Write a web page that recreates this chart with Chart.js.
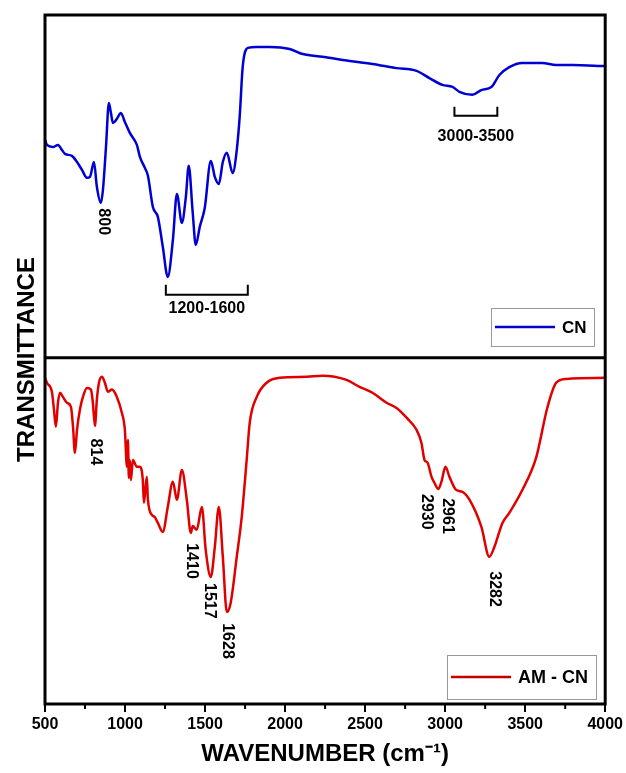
<!DOCTYPE html>
<html>
<head>
<meta charset="utf-8">
<script src="https://cdn.jsdelivr.net/npm/chart.js@4.4.0/dist/chart.umd.min.js"></script>
<style>
  body { margin: 0; background: #fff; }
  canvas { display: block; }
</style>
</head>
<body>
<canvas id="ftir" width="626" height="773"></canvas>
<script>
// CN spectrum (top panel), transmittance in arbitrary units
var cnWavenumber = [500, 512, 550, 581, 606, 625, 668, 700, 731, 762, 781, 806, 824, 849, 862, 881, 899, 912, 924, 949,
  974, 999, 1030, 1074, 1093, 1124, 1143, 1174, 1205, 1236, 1267, 1299, 1324, 1355, 1380, 1398, 1423, 1442, 1467, 1498,
  1536, 1561, 1586, 1611, 1636, 1673, 1698, 1717, 1735, 1767, 1823, 1904, 2029, 2110, 2234, 2359, 2546, 2696, 2821, 2902,
  2983, 3046, 3089, 3170, 3226, 3289, 3339, 3401, 3482, 3607, 3694, 3794, 4000];
var cnTransmittance = [63.6, 62.1, 61.5, 62.1, 60.6, 59.5, 58.9, 57.1, 54.8, 52.5, 52.8, 57.1, 49.9, 45.2, 49.0, 61.5, 74.3, 71.4, 68.5, 69.7,
  71.4, 68.8, 65.6, 62.1, 58.6, 55.4, 53.1, 44.0, 41.1, 32.4, 23.6, 34.4, 47.8, 39.4, 46.9, 56.0, 42.3, 32.9, 38.2, 43.7,
  57.4, 52.8, 50.7, 57.1, 59.8, 53.9, 60.6, 70.8, 84.8, 90.4, 90.7, 90.7, 90.1, 88.6, 87.8, 86.9, 85.7, 84.5, 83.7, 81.6,
  79.6, 79.0, 77.6, 76.7, 78.1, 79.0, 82.5, 84.8, 86.0, 86.0, 85.4, 85.4, 85.1];

// AM - CN spectrum (bottom panel)
var amWavenumber = [500, 512, 544, 556, 568, 581, 594, 612, 637, 662, 675, 687, 700, 718, 737, 762, 787, 799, 812, 824,
  837, 856, 874, 893, 918, 949, 980, 999, 1012, 1018, 1024, 1030, 1037, 1049, 1074, 1093, 1111, 1118, 1136, 1143,
  1168, 1186, 1205, 1236, 1267, 1299, 1324, 1355, 1386, 1411, 1423, 1448, 1480, 1504, 1536, 1561, 1586, 1611, 1636, 1660,
  1698, 1729, 1760, 1779, 1823, 1885, 1966, 2135, 2234, 2384, 2465, 2546, 2634, 2696, 2759, 2821, 2852, 2871, 2890, 2915,
  2933, 2958, 2977, 3002, 3027, 3070, 3108, 3152, 3226, 3276, 3308, 3358, 3401, 3482, 3570, 3638, 3694, 3757, 4000];
var amTransmittance = [94.2, 92.8, 89.9, 85.0, 80.1, 87.0, 89.9, 88.7, 87.0, 85.8, 80.1, 72.5, 79.2, 85.0, 88.7, 91.3, 90.8, 87.0, 80.3, 87.9,
  92.8, 94.5, 92.8, 90.2, 90.8, 88.7, 84.1, 79.2, 68.5, 76.3, 65.3, 70.5, 64.7, 70.5, 68.5, 68.5, 64.7, 58.1, 65.6, 59.0,
  54.6, 54.0, 52.3, 49.7, 56.9, 64.2, 59.0, 67.6, 59.0, 49.4, 51.4, 50.3, 56.9, 44.5, 36.7, 45.4, 56.9, 42.5, 26.6, 29.2,
  42.5, 54.0, 70.5, 81.2, 88.7, 92.8, 94.2, 94.5, 94.8, 93.6, 91.6, 89.9, 87.0, 85.5, 82.7, 79.2, 75.4, 70.5, 69.7, 65.6,
  63.9, 62.1, 64.2, 68.5, 65.6, 61.8, 61.3, 59.0, 51.2, 42.5, 45.4, 52.3, 55.2, 61.8, 71.4, 85.5, 92.8, 93.9, 94.2];

var majorTicks = [500, 1000, 1500, 2000, 2500, 3000, 3500, 4000];
var minorTicks = [750, 1250, 1750, 2250, 2750, 3250, 3750];

// peak labels: text, wavenumber, transmittance where the label sits
var cnPeakText = ['800'];
var cnPeakX = [862];
var cnPeakY = [39.7];
var amPeakText = ['814', '1410', '1517', '1628', '2930', '2961', '3282'];
var amPeakX = [818, 1417, 1529, 1642, 2883, 3014, 3308];
var amPeakY = [72.8, 41.3, 29.8, 18.2, 55.5, 54.3, 33.2];

// region brackets on the CN panel
var rangeText = ['1200-1600', '3000-3500'];
var rangeFrom = [1255, 3058];
var rangeTo = [1767, 3326];
var rangeTop = [21.3, 73.2];
var rangeBottom = [18.4, 70.6];
var rangeLabelY = [14.3, 64.4];

var FONT = "'Liberation Sans', Arial, sans-serif";
Chart.defaults.font.family = FONT;
Chart.defaults.color = '#000';

function pts(xs, ys) {
  return xs.map(function (x, i) { return { x: x, y: ys[i] }; });
}

var panelPlugin = {
  id: 'panels',
  afterDatasetsDraw: function (chart) {
    var c = chart.ctx, a = chart.chartArea;
    var sx = chart.scales.x, yt = chart.scales.yTop, yb = chart.scales.yBottom;
    c.save();

    // frame + divider
    c.strokeStyle = '#000';
    c.lineWidth = 3;
    c.strokeRect(a.left, a.top, a.right - a.left, a.bottom - a.top);
    var mid = yt.getPixelForValue(0);
    c.beginPath();
    c.moveTo(a.left, mid);
    c.lineTo(a.right, mid);
    c.stroke();

    // minor ticks
    c.lineWidth = 2;
    minorTicks.forEach(function (t) {
      var px = sx.getPixelForValue(t);
      c.beginPath();
      c.moveTo(px, a.bottom);
      c.lineTo(px, a.bottom + 5);
      c.stroke();
    });

    // peak labels (rotated)
    c.fillStyle = '#000';
    c.font = 'bold 16px ' + FONT;
    c.textAlign = 'center';
    c.textBaseline = 'middle';
    function rot(txt, px, py) {
      c.save();
      c.translate(px, py);
      c.rotate(Math.PI / 2);
      c.fillText(txt, 0, 0);
      c.restore();
    }
    cnPeakText.forEach(function (t, i) {
      rot(t, sx.getPixelForValue(cnPeakX[i]), yt.getPixelForValue(cnPeakY[i]));
    });
    amPeakText.forEach(function (t, i) {
      rot(t, sx.getPixelForValue(amPeakX[i]), yb.getPixelForValue(amPeakY[i]));
    });

    // range brackets
    c.lineWidth = 2;
    rangeText.forEach(function (t, i) {
      var x1 = sx.getPixelForValue(rangeFrom[i]), x2 = sx.getPixelForValue(rangeTo[i]);
      var y1 = yt.getPixelForValue(rangeTop[i]), y2 = yt.getPixelForValue(rangeBottom[i]);
      c.beginPath();
      c.moveTo(x1, y1);
      c.lineTo(x1, y2);
      c.lineTo(x2, y2);
      c.lineTo(x2, y1);
      c.stroke();
      c.fillText(t, (x1 + x2) / 2, yt.getPixelForValue(rangeLabelY[i]));
    });

    // legends
    function legend(box, color, label, size) {
      c.lineWidth = 1;
      c.strokeStyle = '#999';
      c.strokeRect(box[0] + 0.5, box[1] + 0.5, box[2], box[3]);
      var ly = box[1] + box[3] / 2;
      c.strokeStyle = color;
      c.lineWidth = 2.5;
      c.beginPath();
      c.moveTo(box[0] + 4, ly);
      c.lineTo(box[0] + 64, ly);
      c.stroke();
      c.font = 'bold ' + size + 'px ' + FONT;
      c.textAlign = 'left';
      c.fillText(label, box[0] + 71, ly + 1);
    }
    legend([491, 308, 103, 38], '#0000cc', chart.data.datasets[0].label, 17);
    legend([447, 655, 149, 44], '#c00000', chart.data.datasets[1].label, 18);

    // y title
    c.font = 'bold 24px ' + FONT;
    c.textAlign = 'center';
    c.save();
    c.translate(27, (a.top + a.bottom) / 2);
    c.rotate(-Math.PI / 2);
    c.fillText('TRANSMITTANCE', 0, 0);
    c.restore();

    c.restore();
  }
};

new Chart(document.getElementById('ftir'), {
  type: 'line',
  data: {
    datasets: [
      {
        label: 'CN',
        data: pts(cnWavenumber, cnTransmittance),
        borderColor: '#0000d2',
        borderWidth: 2.5,
        pointRadius: 0,
        cubicInterpolationMode: 'monotone',
        yAxisID: 'yTop'
      },
      {
        label: 'AM - CN',
        data: pts(amWavenumber, amTransmittance),
        borderColor: '#e00000',
        borderWidth: 2.5,
        pointRadius: 0,
        cubicInterpolationMode: 'monotone',
        yAxisID: 'yBottom'
      }
    ]
  },
  options: {
    responsive: false,
    animation: false,
    layout: { padding: { left: 45, right: 20, top: 15, bottom: 0 } },
    plugins: { legend: { display: false }, tooltip: { enabled: false } },
    scales: {
      x: {
        type: 'linear',
        min: 500,
        max: 4000,
        afterBuildTicks: function (s) { s.ticks = majorTicks.map(function (v) { return { value: v }; }); },
        ticks: {
          font: { size: 16, weight: 'bold' },
          color: '#000',
          padding: 3,
          maxRotation: 0,
          autoSkip: false,
          callback: function (v) { return String(v); }
        },
        grid: { drawOnChartArea: false, tickLength: 8, color: '#000', lineWidth: 2 },
        border: { display: false },
        title: {
          display: true,
          text: 'WAVENUMBER (cm\u207B\u00B9)',
          font: { size: 24, weight: 'bold' },
          color: '#000',
          padding: { top: 0, bottom: 4 }
        },
        afterFit: function (s) { s.height = 69; }
      },
      yTop: { type: 'linear', display: false, min: -101, max: 100 },
      yBottom: { type: 'linear', display: false, min: 0, max: 199 }
    }
  },
  plugins: [panelPlugin]
});
</script>
</body>
</html>
